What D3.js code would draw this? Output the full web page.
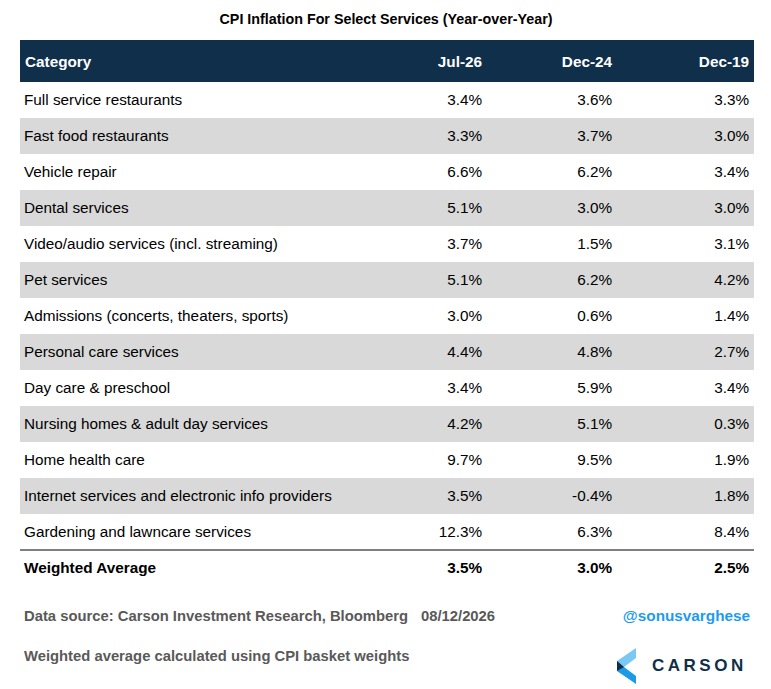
<!DOCTYPE html>
<html><head><meta charset="utf-8">
<script src="https://cdn.jsdelivr.net/npm/d3@7"></script>
<style>body{margin:0;background:#fff}svg{font-family:"Liberation Sans",Arial,sans-serif}</style>
</head><body>
<script>
var columns = ["Jul-26", "Dec-24", "Dec-19"];
var categories = ["Full service restaurants","Fast food restaurants","Vehicle repair","Dental services",
  "Video/audio services (incl. streaming)","Pet services","Admissions (concerts, theaters, sports)",
  "Personal care services","Day care & preschool","Nursing homes & adult day services","Home health care",
  "Internet services and electronic info providers","Gardening and lawncare services"];
var jul26 = [3.4,3.3,6.6,5.1,3.7,5.1,3.0,4.4,3.4,4.2,9.7,3.5,12.3];
var dec24 = [3.6,3.7,6.2,3.0,1.5,6.2,0.6,4.8,5.9,5.1,9.5,-0.4,6.3];
var dec19 = [3.3,3.0,3.4,3.0,3.1,4.2,1.4,2.7,3.4,0.3,1.9,1.8,8.4];
var weighted = [3.5,3.0,2.5];

var W = 771, H = 689;
var svg = d3.select("body").append("svg").attr("width", W).attr("height", H);
var fmt = function(v){ return v.toFixed(1) + "%"; };

var y = d3.scaleBand().domain(d3.range(categories.length)).range([82, 550]).paddingInner(0);
var colX = [482, 612, 749];
var fs = 15.3;

svg.append("text").attr("x", 386).attr("y", 24).attr("text-anchor","middle")
  .attr("font-size", 14.3).attr("font-weight","bold").text("CPI Inflation For Select Services (Year-over-Year)");

svg.append("rect").attr("x",20).attr("y",40).attr("width",734).attr("height",42).attr("fill","#0f2f4a");
svg.append("text").attr("x",25).attr("y",67).attr("fill","#fff").attr("font-size",fs).attr("font-weight","bold").text("Category");
columns.forEach(function(c,i){
  svg.append("text").attr("x",colX[i]).attr("y",67).attr("text-anchor","end").attr("fill","#fff")
    .attr("font-size",fs).attr("font-weight","bold").text(c);
});

var rows = svg.selectAll("g.row").data(categories).enter().append("g").attr("class","row")
  .attr("transform", function(d,i){ return "translate(0," + y(i) + ")"; });
rows.append("rect").attr("x",20).attr("width",734).attr("height",y.bandwidth())
  .attr("fill", function(d,i){ return i % 2 ? "#d9d9d9" : "#fff"; });
rows.append("text").attr("x",24).attr("y",23).attr("font-size",fs).text(function(d){ return d; });
[jul26, dec24, dec19].forEach(function(arr,j){
  rows.append("text").attr("x",colX[j]).attr("y",23).attr("text-anchor","end").attr("font-size",fs)
    .text(function(d,i){ return fmt(arr[i]); });
});

svg.append("line").attr("x1",20).attr("x2",754).attr("y1",550).attr("y2",550).attr("stroke","#000").attr("stroke-width",1.2);
svg.append("text").attr("x",24).attr("y",573).attr("font-size",fs).attr("font-weight","bold").text("Weighted Average");
weighted.forEach(function(v,j){
  svg.append("text").attr("x",colX[j]).attr("y",573).attr("text-anchor","end").attr("font-size",fs)
    .attr("font-weight","bold").text(fmt(v));
});

svg.append("text").attr("x",24).attr("y",621).attr("font-size",14.8).attr("font-weight","bold").attr("fill","#595959")
  .text("Data source: Carson Investment Research, Bloomberg");
svg.append("text").attr("x",421).attr("y",621).attr("font-size",14.8).attr("font-weight","bold").attr("fill","#595959")
  .text("08/12/2026");
svg.append("text").attr("x",24).attr("y",661).attr("font-size",14.8).attr("font-weight","bold").attr("fill","#595959")
  .text("Weighted average calculated using CPI basket weights");
svg.append("text").attr("x",750).attr("y",621).attr("text-anchor","end").attr("font-size",15.3).attr("font-weight","bold")
  .attr("fill","#1e9bf0").text("@sonusvarghese");

// logo
var lg = svg.append("g").attr("transform","translate(617,648)");
lg.append("polygon").attr("points","19,0 19,10 7,19 0,13").attr("fill","#7cc8f5");
lg.append("polygon").attr("points","0,13 7,19 19,28 19,36 0,23").attr("fill","#1a9be8");
lg.append("polygon").attr("points","0,13 7,19 0,23").attr("fill","#0f2f4a");
svg.append("text").attr("x",652).attr("y",671).attr("font-size",17).attr("letter-spacing","3.5px")
  .attr("fill","#0f2f4a").attr("font-weight","bold").text("CARSON");
</script>
</body></html>
